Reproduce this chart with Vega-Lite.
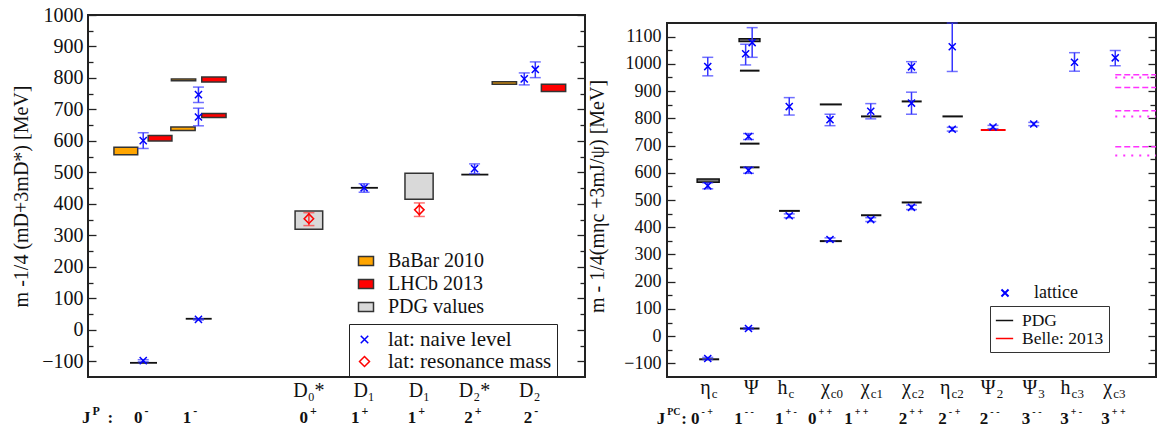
{
  "$schema": "https://vega.github.io/schema/vega-lite/v6.json",
  "background": "white",
  "padding": {"left": 10, "top": 4, "right": 5, "bottom": 5},
  "spacing": 0,
  "resolve": {
    "scale": {"stroke": "independent", "color": "independent", "fill": "independent", "shape": "independent"}
  },
  "config": {
    "font": "Liberation Serif",
    "view": {"stroke": "#222", "strokeWidth": 2},
    "axis": {"domain": false, "grid": false, "tickColor": "#222", "tickWidth": 1.3, "labelColor": "#111", "titleColor": "#111", "titleFontWeight": "normal", "labelOverlap": false, "labelFlush": false, "labelFont": "Liberation Serif", "titleFont": "Liberation Serif"},
    "legend": {"labelFont": "Liberation Serif", "labelColor": "#111", "labelLimit": 400},
    "text": {"font": "Liberation Serif"},
    "title": {"font": "Liberation Serif"}
  },
  "datasets": {
    "leftRects": [
      {"src": "BaBar 2010", "x1": -0.53, "x2": -0.1, "y1": 556, "y2": 580},
      {"src": "LHCb 2013", "x1": 0.09, "x2": 0.52, "y1": 600, "y2": 617},
      {"src": "BaBar 2010", "x1": 0.5, "x2": 0.94, "y1": 633, "y2": 644},
      {"src": "BaBar 2010", "x1": 0.51, "x2": 0.95, "y1": 791, "y2": 797},
      {"src": "LHCb 2013", "x1": 1.06, "x2": 1.5, "y1": 787, "y2": 803},
      {"src": "LHCb 2013", "x1": 1.06, "x2": 1.5, "y1": 674, "y2": 687},
      {"src": "PDG values", "x1": 2.75, "x2": 3.25, "y1": 319, "y2": 377},
      {"src": "PDG values", "x1": 4.74, "x2": 5.25, "y1": 415, "y2": 497},
      {"src": "BaBar 2010", "x1": 6.32, "x2": 6.76, "y1": 780, "y2": 788},
      {"src": "LHCb 2013", "x1": 7.21, "x2": 7.65, "y1": 757, "y2": 780}
    ],
    "leftLines": [
      {"x1": -0.24, "x2": 0.25, "m": -105},
      {"x1": 0.77, "x2": 1.24, "m": 35},
      {"x1": 3.76, "x2": 4.25, "m": 451},
      {"x1": 5.76, "x2": 6.25, "m": 493}
    ],
    "leftLat": [
      {"kind": "lat: naive level", "x": 0, "m": 601, "lo": 576, "hi": 626},
      {"kind": "lat: naive level", "x": 0, "m": -98, "lo": -102, "hi": -95},
      {"kind": "lat: naive level", "x": 1, "m": 747, "lo": 722, "hi": 771},
      {"kind": "lat: naive level", "x": 1, "m": 676, "lo": 648, "hi": 704},
      {"kind": "lat: naive level", "x": 1, "m": 33, "lo": 31, "hi": 35},
      {"kind": "lat: resonance mass", "x": 3, "m": 353, "lo": 331, "hi": 372},
      {"kind": "lat: naive level", "x": 4, "m": 451, "lo": 437, "hi": 464},
      {"kind": "lat: resonance mass", "x": 5, "m": 381, "lo": 360, "hi": 403},
      {"kind": "lat: naive level", "x": 6, "m": 512, "lo": 496, "hi": 527},
      {"kind": "lat: naive level", "x": 6.9, "m": 797, "lo": 778, "hi": 816},
      {"kind": "lat: naive level", "x": 7.1, "m": 827, "lo": 801, "hi": 851}
    ],
    "leftRow1": [
      {"x": 3, "t": "D₀*"}, {"x": 4, "t": "D₁"}, {"x": 5, "t": "D₁"}, {"x": 6, "t": "D₂*"}, {"x": 7, "t": "D₂"}
    ],
    "leftRow2": [
      {"x": -0.9, "t": "J", "s": "P"}, {"x": -0.49, "t": ":", "s": ""},
      {"x": 0.04, "t": "0", "s": "-"}, {"x": 0.925, "t": "1", "s": "-"},
      {"x": 3.04, "t": "0", "s": "+"}, {"x": 3.97, "t": "1", "s": "+"},
      {"x": 5.0, "t": "1", "s": "+"}, {"x": 6.02, "t": "2", "s": "+"},
      {"x": 7.1, "t": "2", "s": "-"}
    ],
    "rightBoxes": [
      {"x1": -0.26, "x2": 0.28, "y1": 565, "y2": 577},
      {"x1": 0.77, "x2": 1.28, "y1": 1082, "y2": 1092}
    ],
    "rightLines": [
      {"src": "PDG", "x1": -0.21, "x2": 0.28, "m": -85},
      {"src": "PDG", "x1": 0.79, "x2": 1.27, "m": 975},
      {"src": "PDG", "x1": 0.79, "x2": 1.27, "m": 707},
      {"src": "PDG", "x1": 0.79, "x2": 1.27, "m": 620},
      {"src": "PDG", "x1": 0.79, "x2": 1.27, "m": 28},
      {"src": "PDG", "x1": 1.75, "x2": 2.26, "m": 460},
      {"src": "PDG", "x1": 2.75, "x2": 3.29, "m": 851},
      {"src": "PDG", "x1": 2.75, "x2": 3.29, "m": 349},
      {"src": "PDG", "x1": 3.76, "x2": 4.26, "m": 807},
      {"src": "PDG", "x1": 3.76, "x2": 4.26, "m": 444},
      {"src": "PDG", "x1": 4.76, "x2": 5.25, "m": 862},
      {"src": "PDG", "x1": 4.76, "x2": 5.25, "m": 491},
      {"src": "PDG", "x1": 5.76, "x2": 6.26, "m": 807},
      {"src": "Belle: 2013", "x1": 6.7, "x2": 7.31, "m": 757}
    ],
    "rightLat": [
      {"kind": "lattice", "x": 0, "m": 990, "lo": 956, "hi": 1024},
      {"kind": "lattice", "x": 0, "m": 552, "lo": 541, "hi": 563},
      {"kind": "lattice", "x": 0, "m": -82, "lo": -86, "hi": -78},
      {"kind": "lattice", "x": 0.93, "m": 1037, "lo": 996, "hi": 1072},
      {"kind": "lattice", "x": 1.09, "m": 1078, "lo": 1024, "hi": 1133},
      {"kind": "lattice", "x": 1, "m": 733, "lo": 722, "hi": 744},
      {"kind": "lattice", "x": 1, "m": 609, "lo": 598, "hi": 620},
      {"kind": "lattice", "x": 1, "m": 28, "lo": 25, "hi": 31},
      {"kind": "lattice", "x": 2, "m": 843, "lo": 812, "hi": 876},
      {"kind": "lattice", "x": 2, "m": 442, "lo": 435, "hi": 449},
      {"kind": "lattice", "x": 3, "m": 795, "lo": 773, "hi": 815},
      {"kind": "lattice", "x": 3, "m": 355, "lo": 349, "hi": 361},
      {"kind": "lattice", "x": 4, "m": 826, "lo": 798, "hi": 854},
      {"kind": "lattice", "x": 4, "m": 428, "lo": 421, "hi": 435},
      {"kind": "lattice", "x": 5, "m": 989, "lo": 968, "hi": 1008},
      {"kind": "lattice", "x": 5, "m": 856, "lo": 815, "hi": 896},
      {"kind": "lattice", "x": 5, "m": 473, "lo": 465, "hi": 481},
      {"kind": "lattice", "x": 6, "m": 1063, "lo": 972, "hi": 1150},
      {"kind": "lattice", "x": 6, "m": 760, "lo": 753, "hi": 767},
      {"kind": "lattice", "x": 7, "m": 768, "lo": 762, "hi": 774},
      {"kind": "lattice", "x": 8, "m": 779, "lo": 773, "hi": 785},
      {"kind": "lattice", "x": 9, "m": 1006, "lo": 973, "hi": 1041},
      {"kind": "lattice", "x": 10, "m": 1022, "lo": 993, "hi": 1049}
    ],
    "magentaDashed": [
      {"x1": 10, "x2": 11, "m": 960}, {"x1": 10, "x2": 11, "m": 913},
      {"x1": 10, "x2": 11, "m": 828}, {"x1": 10, "x2": 11, "m": 696}
    ],
    "magentaDotted": [
      {"x1": 10, "x2": 11, "m": 950}, {"x1": 10, "x2": 11, "m": 807}, {"x1": 10, "x2": 11, "m": 663}
    ],
    "rightRow1": [
      {"x": 0.05, "t": "η", "s": "c"}, {"x": 1.23, "t": "Ψ", "s": ""},
      {"x": 1.93, "t": "h", "s": "c"}, {"x": 2.97, "t": "χ", "s": "c0"},
      {"x": 3.95, "t": "χ", "s": "c1"}, {"x": 4.96, "t": "χ", "s": "c2"},
      {"x": 5.93, "t": "η", "s": "c2"}, {"x": 7.04, "t": "Ψ", "s": "2"},
      {"x": 8.06, "t": "Ψ", "s": "3"}, {"x": 8.88, "t": "h", "s": "c3"},
      {"x": 9.9, "t": "χ", "s": "c3"}
    ],
    "rightRow2": [
      {"x": -0.97, "t": "J", "s": "PC"}, {"x": -0.44, "t": ":", "s": ""},
      {"x": -0.13, "t": "0", "s": "- +"}, {"x": 0.93, "t": "1", "s": "- -"},
      {"x": 1.93, "t": "1", "s": "+ -"}, {"x": 2.74, "t": "0", "s": "+ +"},
      {"x": 3.63, "t": "1", "s": "+ +"}, {"x": 4.97, "t": "2", "s": "+ +"},
      {"x": 5.94, "t": "2", "s": "- +"}, {"x": 6.96, "t": "2", "s": "- -"},
      {"x": 7.99, "t": "3", "s": "- -"}, {"x": 8.93, "t": "3", "s": "+ -"},
      {"x": 9.94, "t": "3", "s": "+ +"}
    ]
  },
  "hconcat": [
    {
      "width": 497,
      "height": 362,
      "resolve": {"axis": {"y": "independent"}},
      "layer": [
        {
          "data": {"name": "leftRects"},
          "mark": {"type": "rect", "stroke": "#333", "strokeWidth": 1.5},
          "encoding": {
            "x": {"field": "x1", "type": "quantitative", "scale": {"domain": [-1, 8], "nice": false, "zero": false}, "axis": null},
            "x2": {"field": "x2"},
            "y": {"field": "y1", "type": "quantitative", "scale": {"domain": [-150, 1000], "nice": false, "zero": false},
              "axis": {"orient": "left", "values": [-100,-50,0,50,100,150,200,250,300,350,400,450,500,550,600,650,700,750,800,850,900,950,1000],
                "tickSize": {"condition": {"test": "datum.value % 100 === 0", "value": -8}, "value": -5},
                "labelExpr": "datum.value % 100 === 0 ? format(datum.value, 'd') : ''",
                "labelPadding": 13, "labelFontSize": 20,
                "title": "m -1/4 (mD+3mD*)  [MeV]", "titleFontSize": 20, "titlePadding": 10}},
            "y2": {"field": "y2"},
            "fill": {"field": "src", "type": "nominal",
              "scale": {"domain": ["BaBar 2010", "LHCb 2013", "PDG values"], "range": ["#FFA500", "#FF0000", "#D9D9D9"]},
              "legend": {"orient": "none", "legendX": 268, "legendY": 236, "title": null, "labelFontSize": 20, "labelFont": "Liberation Serif", "labelOffset": 12, "rowPadding": 3,
                "symbolType": "M-1,-0.6H1V0.6H-1Z", "symbolSize": 225, "symbolStrokeColor": "#333", "symbolStrokeWidth": 1.5}}
          }
        },
        {
          "data": {"name": "leftLines"},
          "mark": {"type": "rule", "color": "#111", "strokeWidth": 1.8},
          "encoding": {
            "x": {"field": "x1", "type": "quantitative", "scale": {"domain": [-1, 8], "nice": false, "zero": false}, "axis": null},
            "x2": {"field": "x2"},
            "y": {"field": "m", "type": "quantitative", "scale": {"domain": [-150, 1000], "nice": false, "zero": false},
              "axis": {"orient": "right", "values": [-100,-50,0,50,100,150,200,250,300,350,400,450,500,550,600,650,700,750,800,850,900,950,1000],
                "tickSize": {"condition": {"test": "datum.value % 100 === 0", "value": -8}, "value": -5},
                "labels": false, "title": null}}
          }
        },
        {
          "data": {"name": "leftLat"},
          "mark": {"type": "rule", "strokeWidth": 1.5},
          "encoding": {
            "x": {"field": "x", "type": "quantitative", "scale": {"domain": [-1, 8], "nice": false, "zero": false}, "axis": null},
            "y": {"field": "lo", "type": "quantitative", "scale": {"domain": [-150, 1000], "nice": false, "zero": false}, "axis": null},
            "y2": {"field": "hi"},
            "color": {"condition": {"test": "datum.kind === 'lat: resonance mass'", "value": "#ff3535"}, "value": "#3535ff"}
          }
        },
        {
          "data": {"name": "leftLat"},
          "mark": {"type": "tick", "orient": "horizontal", "size": 11, "thickness": 1.5},
          "encoding": {
            "x": {"field": "x", "type": "quantitative", "scale": {"domain": [-1, 8], "nice": false, "zero": false}, "axis": null},
            "y": {"field": "lo", "type": "quantitative", "scale": {"domain": [-150, 1000], "nice": false, "zero": false}, "axis": null},
            "color": {"condition": {"test": "datum.kind === 'lat: resonance mass'", "value": "#ff3535"}, "value": "#3535ff"}
          }
        },
        {
          "data": {"name": "leftLat"},
          "mark": {"type": "tick", "orient": "horizontal", "size": 11, "thickness": 1.5},
          "encoding": {
            "x": {"field": "x", "type": "quantitative", "scale": {"domain": [-1, 8], "nice": false, "zero": false}, "axis": null},
            "y": {"field": "hi", "type": "quantitative", "scale": {"domain": [-150, 1000], "nice": false, "zero": false}, "axis": null},
            "color": {"condition": {"test": "datum.kind === 'lat: resonance mass'", "value": "#ff3535"}, "value": "#3535ff"}
          }
        },
        {
          "data": {"name": "leftLat"},
          "mark": {"type": "point", "filled": false, "strokeWidth": 1.5, "opacity": 1, "size": 90},
          "encoding": {
            "x": {"field": "x", "type": "quantitative", "scale": {"domain": [-1, 8], "nice": false, "zero": false}, "axis": null},
            "y": {"field": "m", "type": "quantitative", "scale": {"domain": [-150, 1000], "nice": false, "zero": false}, "axis": null},
            "shape": {"field": "kind", "type": "nominal", "scale": {"domain": ["lat: naive level", "lat: resonance mass"], "range": ["M-0.75,-0.75L0.75,0.75M-0.75,0.75L0.75,-0.75", "diamond"]},
              "legend": {"orient": "none", "legendX": 261, "legendY": 309, "title": null, "labelFontSize": 21, "labelFont": "Liberation Serif", "labelOffset": 13, "rowPadding": 0, "padding": 5, "strokeColor": "#222", "symbolStrokeWidth": 1.5}},
            "stroke": {"field": "kind", "type": "nominal", "scale": {"domain": ["lat: naive level", "lat: resonance mass"], "range": ["#0000ff", "#ff0000"]},
              "legend": {"orient": "none", "legendX": 261, "legendY": 309, "title": null, "labelFontSize": 21, "labelFont": "Liberation Serif", "labelOffset": 13, "rowPadding": 0, "padding": 5, "strokeColor": "#222", "symbolStrokeWidth": 1.5}}
          }
        },
        {
          "data": {"name": "leftRow1"},
          "mark": {"type": "text", "fontSize": 20, "baseline": "middle", "align": "center", "color": "#111", "font": "Liberation Serif"},
          "encoding": {
            "x": {"field": "x", "type": "quantitative", "scale": {"domain": [-1, 8], "nice": false, "zero": false}, "axis": null},
            "y": {"datum": -193, "type": "quantitative", "scale": {"domain": [-150, 1000], "nice": false, "zero": false}, "axis": null},
            "text": {"field": "t"}
          }
        },
        {
          "data": {"name": "leftRow2"},
          "mark": {"type": "text", "fontSize": 17, "fontWeight": "bold", "baseline": "middle", "align": "right", "dx": -3, "color": "#111", "font": "Liberation Serif"},
          "encoding": {
            "x": {"field": "x", "type": "quantitative", "scale": {"domain": [-1, 8], "nice": false, "zero": false}, "axis": null},
            "y": {"datum": -279, "type": "quantitative", "scale": {"domain": [-150, 1000], "nice": false, "zero": false}, "axis": null},
            "text": {"field": "t"}
          }
        },
        {
          "data": {"name": "leftRow2"},
          "mark": {"type": "text", "fontSize": 12, "fontWeight": "bold", "baseline": "middle", "align": "left", "dx": -1, "dy": -7, "color": "#111", "font": "Liberation Serif"},
          "encoding": {
            "x": {"field": "x", "type": "quantitative", "scale": {"domain": [-1, 8], "nice": false, "zero": false}, "axis": null},
            "y": {"datum": -279, "type": "quantitative", "scale": {"domain": [-150, 1000], "nice": false, "zero": false}, "axis": null},
            "text": {"field": "s"}
          }
        }
      ]
    },
    {
      "width": 489,
      "height": 362,
      "view": {"stroke": null},
      "resolve": {"axis": {"y": "independent"}},
      "layer": [
        {
          "data": {"values": [{}]},
          "mark": {"type": "rect", "fill": null, "fillOpacity": 0, "stroke": "#222", "strokeWidth": 2},
          "encoding": {
            "x": {"datum": -1, "type": "quantitative", "scale": {"domain": [-1, 11], "nice": false, "zero": false}, "axis": null},
            "x2": {"datum": 11},
            "y": {"datum": -150, "type": "quantitative", "scale": {"domain": [-150, 1179.4], "nice": false, "zero": false}, "axis": null},
            "y2": {"datum": 1150}
          }
        },
        {
          "data": {"name": "magentaDashed"},
          "mark": {"type": "rule", "color": "#ff33ff", "strokeWidth": 1.5, "strokeDash": [6, 3]},
          "encoding": {
            "x": {"field": "x1", "type": "quantitative", "scale": {"domain": [-1, 11], "nice": false, "zero": false}, "axis": null},
            "x2": {"field": "x2"},
            "y": {"field": "m", "type": "quantitative", "scale": {"domain": [-150, 1179.4], "nice": false, "zero": false},
              "axis": {"orient": "left", "values": [-100,-50,0,50,100,150,200,250,300,350,400,450,500,550,600,650,700,750,800,850,900,950,1000,1050,1100],
                "tickSize": {"condition": {"test": "datum.value % 100 === 0", "value": -8}, "value": -5},
                "labelExpr": "datum.value % 100 === 0 ? format(datum.value, 'd') : ''",
                "labelPadding": 14, "labelFontSize": 18,
                "title": "m - 1/4(mηc +3mJ/ψ) [MeV]", "titleFontSize": 20, "titlePadding": 16}}
          }
        },
        {
          "data": {"name": "magentaDotted"},
          "mark": {"type": "rule", "color": "#ff33ff", "strokeWidth": 2, "strokeDash": [2, 6]},
          "encoding": {
            "x": {"field": "x1", "type": "quantitative", "scale": {"domain": [-1, 11], "nice": false, "zero": false}, "axis": null},
            "x2": {"field": "x2"},
            "y": {"field": "m", "type": "quantitative", "scale": {"domain": [-150, 1179.4], "nice": false, "zero": false},
              "axis": {"orient": "right", "values": [-100,-50,0,50,100,150,200,250,300,350,400,450,500,550,600,650,700,750,800,850,900,950,1000,1050,1100],
                "tickSize": {"condition": {"test": "datum.value % 100 === 0", "value": -8}, "value": -6},
                "labels": false, "title": null}}
          }
        },
        {
          "data": {"name": "rightBoxes"},
          "mark": {"type": "rect", "fill": "#777", "stroke": "#111", "strokeWidth": 1.5},
          "encoding": {
            "x": {"field": "x1", "type": "quantitative", "scale": {"domain": [-1, 11], "nice": false, "zero": false}, "axis": null},
            "x2": {"field": "x2"},
            "y": {"field": "y1", "type": "quantitative", "scale": {"domain": [-150, 1179.4], "nice": false, "zero": false}, "axis": null},
            "y2": {"field": "y2"}
          }
        },
        {
          "data": {"name": "rightLines"},
          "mark": {"type": "rule", "strokeWidth": 2},
          "encoding": {
            "x": {"field": "x1", "type": "quantitative", "scale": {"domain": [-1, 11], "nice": false, "zero": false}, "axis": null},
            "x2": {"field": "x2"},
            "y": {"field": "m", "type": "quantitative", "scale": {"domain": [-150, 1179.4], "nice": false, "zero": false}, "axis": null},
            "stroke": {"field": "src", "type": "nominal", "scale": {"domain": ["PDG", "Belle: 2013"], "range": ["#111111", "#ff0000"]},
              "legend": {"orient": "none", "legendX": 323, "legendY": 291, "title": null, "labelFontSize": 17.5, "labelFont": "Liberation Serif", "labelOffset": 8, "rowPadding": 0, "padding": 5, "strokeColor": "#333", "symbolType": "stroke", "symbolSize": 300, "symbolStrokeWidth": 1.5}}
          }
        },
        {
          "data": {"name": "rightLat"},
          "mark": {"type": "rule", "strokeWidth": 1.5, "color": "#3535ff"},
          "encoding": {
            "x": {"field": "x", "type": "quantitative", "scale": {"domain": [-1, 11], "nice": false, "zero": false}, "axis": null},
            "y": {"field": "lo", "type": "quantitative", "scale": {"domain": [-150, 1179.4], "nice": false, "zero": false}, "axis": null},
            "y2": {"field": "hi"}
          }
        },
        {
          "data": {"name": "rightLat"},
          "mark": {"type": "tick", "orient": "horizontal", "size": 11, "thickness": 1.5, "color": "#3535ff"},
          "encoding": {
            "x": {"field": "x", "type": "quantitative", "scale": {"domain": [-1, 11], "nice": false, "zero": false}, "axis": null},
            "y": {"field": "lo", "type": "quantitative", "scale": {"domain": [-150, 1179.4], "nice": false, "zero": false}, "axis": null}
          }
        },
        {
          "data": {"name": "rightLat"},
          "mark": {"type": "tick", "orient": "horizontal", "size": 11, "thickness": 1.5, "color": "#3535ff"},
          "encoding": {
            "x": {"field": "x", "type": "quantitative", "scale": {"domain": [-1, 11], "nice": false, "zero": false}, "axis": null},
            "y": {"field": "hi", "type": "quantitative", "scale": {"domain": [-150, 1179.4], "nice": false, "zero": false}, "axis": null}
          }
        },
        {
          "data": {"name": "rightLat"},
          "mark": {"type": "point", "filled": false, "strokeWidth": 1.5, "shape": "M-1,-1L1,1M-1,1L1,-1", "size": 50, "opacity": 1},
          "encoding": {
            "x": {"field": "x", "type": "quantitative", "scale": {"domain": [-1, 11], "nice": false, "zero": false}, "axis": null},
            "y": {"field": "m", "type": "quantitative", "scale": {"domain": [-150, 1179.4], "nice": false, "zero": false}, "axis": null},
            "color": {"field": "kind", "type": "nominal", "scale": {"domain": ["lattice"], "range": ["#0000ff"]},
              "legend": {"orient": "none", "legendX": 329, "legendY": 269, "title": null, "labelFontSize": 18, "labelFont": "Liberation Serif", "labelOffset": 20, "symbolType": "M-1,-1L1,1M-1,1L1,-1", "symbolSize": 50, "symbolStrokeWidth": 2}}
          }
        },
        {
          "data": {"name": "rightRow1"},
          "mark": {"type": "text", "fontSize": 20, "baseline": "middle", "align": "right", "dx": 1, "color": "#111", "font": "Liberation Serif"},
          "encoding": {
            "x": {"field": "x", "type": "quantitative", "scale": {"domain": [-1, 11], "nice": false, "zero": false}, "axis": null},
            "y": {"datum": -190, "type": "quantitative", "scale": {"domain": [-150, 1179.4], "nice": false, "zero": false}, "axis": null},
            "text": {"field": "t"}
          }
        },
        {
          "data": {"name": "rightRow1"},
          "mark": {"type": "text", "fontSize": 13, "baseline": "middle", "align": "left", "dx": 2, "dy": 6, "color": "#111", "font": "Liberation Serif"},
          "encoding": {
            "x": {"field": "x", "type": "quantitative", "scale": {"domain": [-1, 11], "nice": false, "zero": false}, "axis": null},
            "y": {"datum": -190, "type": "quantitative", "scale": {"domain": [-150, 1179.4], "nice": false, "zero": false}, "axis": null},
            "text": {"field": "s"}
          }
        },
        {
          "data": {"name": "rightRow2"},
          "mark": {"type": "text", "fontSize": 17, "fontWeight": "bold", "baseline": "middle", "align": "right", "dx": -3, "color": "#111", "font": "Liberation Serif"},
          "encoding": {
            "x": {"field": "x", "type": "quantitative", "scale": {"domain": [-1, 11], "nice": false, "zero": false}, "axis": null},
            "y": {"datum": -305, "type": "quantitative", "scale": {"domain": [-150, 1179.4], "nice": false, "zero": false}, "axis": null},
            "text": {"field": "t"}
          }
        },
        {
          "data": {"name": "rightRow2"},
          "mark": {"type": "text", "fontSize": 10, "fontWeight": "bold", "baseline": "middle", "align": "left", "dx": -1, "dy": -7, "color": "#111", "font": "Liberation Serif"},
          "encoding": {
            "x": {"field": "x", "type": "quantitative", "scale": {"domain": [-1, 11], "nice": false, "zero": false}, "axis": null},
            "y": {"datum": -305, "type": "quantitative", "scale": {"domain": [-150, 1179.4], "nice": false, "zero": false}, "axis": null},
            "text": {"field": "s"}
          }
        }
      ]
    }
  ]
}
